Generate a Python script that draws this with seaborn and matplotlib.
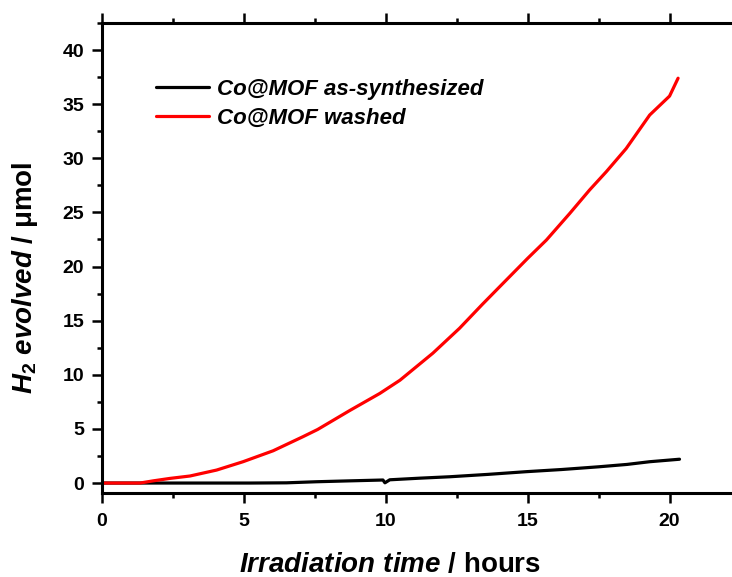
import matplotlib
matplotlib.use("Agg")
import matplotlib.pyplot as plt
from matplotlib.ticker import MultipleLocator
import seaborn as sns
import pandas as pd

# ---- data ----
series_names = ["Co@MOF as-synthesized", "Co@MOF washed"]
series_colors = ["#000000", "#ff0000"]

black_t = [0, 2, 4, 5.2, 6.5, 7.56, 8.7, 9.9, 9.97, 10.14, 11.2, 12.25, 13.6,
           14.95, 16.2, 17.5, 18.5, 19.3, 20.35]
black_y = [0, 0, 0, 0, 0.02, 0.12, 0.2, 0.28, 0.02, 0.3, 0.45, 0.58, 0.8,
           1.05, 1.25, 1.5, 1.72, 1.97, 2.2]

red_t = [0, 1.0, 1.34, 1.8, 2.4, 3.1, 4.04, 4.97, 6.03, 7.08, 7.6, 8.73, 9.79,
         10.5, 11.66, 12.6, 13.4, 14.0, 15.0, 15.66, 16.48, 17.18, 17.77,
         18.47, 19.3, 20.0, 20.3]
red_y = [0, 0, 0.0, 0.2, 0.43, 0.65, 1.2, 1.97, 2.98, 4.28, 4.95, 6.7, 8.28,
         9.5, 12.0, 14.3, 16.5, 18.1, 20.76, 22.45, 24.9, 27.07, 28.76,
         30.9, 34.0, 35.75, 37.4]

x_ticks = [0, 5, 10, 15, 20]
y_ticks = [0, 5, 10, 15, 20, 25, 30, 35, 40]

df = pd.concat([
    pd.DataFrame({"t": black_t, "h2": black_y, "sample": series_names[0]}),
    pd.DataFrame({"t": red_t, "h2": red_y, "sample": series_names[1]}),
], ignore_index=True)

# ---- style ----
sns.set_style("ticks")
plt.rcParams["font.family"] = ["Liberation Sans", "DejaVu Sans"]
plt.rcParams["mathtext.fontset"] = "custom"
plt.rcParams["mathtext.it"] = "Liberation Sans:italic:bold"
plt.rcParams["mathtext.rm"] = "Liberation Sans:bold"
plt.rcParams["mathtext.bf"] = "Liberation Sans:bold"
plt.rcParams["text.color"] = "black"
plt.rcParams["axes.labelcolor"] = "black"
plt.rcParams["xtick.color"] = "black"
plt.rcParams["ytick.color"] = "black"

fig = plt.figure(figsize=(7.32, 5.77), dpi=100)
ax = fig.add_axes([102 / 732, 1 - 493 / 577, 1 - 102 / 732, (493 - 23) / 577])

sns.lineplot(data=df, x="t", y="h2", hue="sample", hue_order=series_names,
             palette=series_colors, estimator=None, sort=False,
             linewidth=2.3, ax=ax)

ax.set_xlim(0, 22.2)
ax.set_ylim(-0.92, 42.5)
ax.set_xticks(x_ticks)
ax.set_yticks(y_ticks)
ax.xaxis.set_minor_locator(MultipleLocator(2.5))
ax.yaxis.set_minor_locator(MultipleLocator(2.5))

for s in ["left", "bottom", "top"]:
    ax.spines[s].set_linewidth(2.2)
    ax.spines[s].set_color("black")
ax.spines["right"].set_visible(False)

ax.tick_params(axis="both", which="major", direction="out", length=7.2,
               width=1.8, labelsize=14, colors="black", pad=5.5)
ax.tick_params(axis="x", which="major", pad=7.5)
ax.tick_params(axis="both", which="minor", direction="out", length=3.6,
               width=1.8, colors="black")
ax.tick_params(axis="x", which="both", top=True)
for lab in ax.get_xticklabels() + ax.get_yticklabels():
    lab.set_fontweight("bold")

ax.set_xlabel(r"$Irradiation\ time$ / hours", fontsize=20, fontweight="bold")
ax.set_ylabel(r"$H_2\ evolved$ / μmol", fontsize=20, fontweight="bold")
ax.xaxis.set_label_coords(0.457, -0.126)
ax.yaxis.set_label_coords(-0.098, 0.457)

leg = ax.legend(loc="upper left", bbox_to_anchor=(156 / 732, 1 - 79 / 577),
                bbox_transform=fig.transFigure, frameon=False,
                handlelength=2.4, handletextpad=0.36, labelspacing=0.36,
                borderpad=0, borderaxespad=0,
                prop={"weight": "bold", "style": "italic", "size": 16})
for line in leg.get_lines():
    line.set_linewidth(2.3)

fig.savefig("out.png", dpi=100)
